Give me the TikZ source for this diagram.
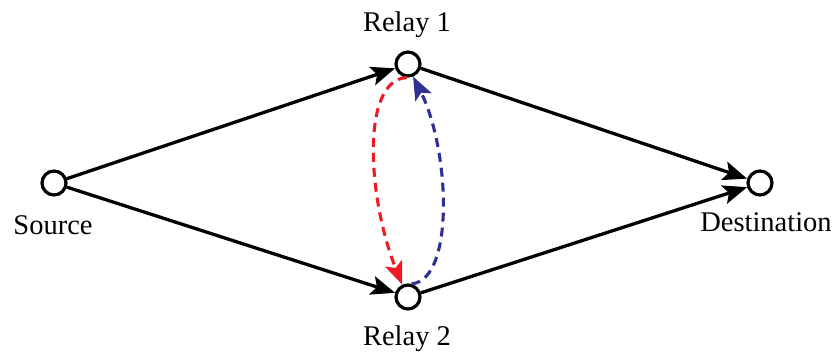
\documentclass[tikz,border=0pt]{standalone}
\usepackage{fontspec}
\setmainfont{Liberation Serif}
\usetikzlibrary{arrows.meta}
\definecolor{myred}{RGB}{237,28,36}
\definecolor{myblue}{RGB}{46,49,146}
\tikzset{
  vtx/.style={circle,draw=black,line width=3.2pt,minimum size=24pt,inner sep=0pt,fill=white},
  lbl/.style={font=\fontsize{28.5}{34}\selectfont,inner sep=0pt},
  link/.style={line width=3.3pt,-{Stealth[length=24pt,width=19pt,inset=5pt]}},
  dlink/.style={line width=3.1pt,dash pattern=on 9pt off 6pt,-{Stealth[length=23pt,width=18pt,inset=5pt]}}
}
\begin{document}
\begin{tikzpicture}[x=1pt,y=1pt]
\useasboundingbox (0,0) rectangle (837,353);
\node[vtx] (s) at (54,170) {};
\node[vtx] (r1) at (408,289) {};
\node[vtx] (r2) at (408,56) {};
\node[vtx] (d) at (760,170) {};
\node[lbl] (ls) at (53,128) {Source};
\node[lbl] (ld) at (766,131) {Destination};
\node[lbl] (l1) at (407,328.5) {Relay 1};
\node[lbl] (l2) at (407,14.5) {Relay 2};
\draw[link] (s) -- (r1);
\draw[link] (s) -- (r2);
\draw[link] (r1) -- (d);
\draw[link] (r2) -- (d);
\draw[dlink,myred] (r1.-95) .. controls (360,273) and (368,153) .. (r2.115);
\draw[dlink,myblue] (r2.75) .. controls (455,73) and (450,203) .. (r1.-68);
\end{tikzpicture}
\end{document}
